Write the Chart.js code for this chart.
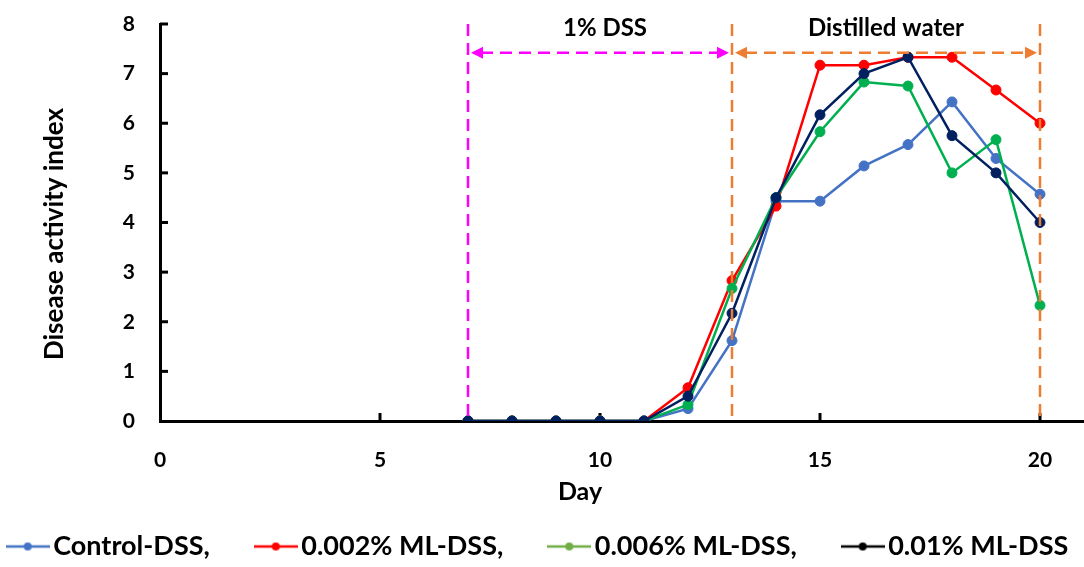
<!DOCTYPE html>
<html>
<head>
<meta charset="utf-8">
<script src="https://cdn.jsdelivr.net/npm/chart.js@4"></script>
<style>
  html, body { margin: 0; padding: 0; background: #fff; overflow: hidden; }
  #wrap { width: 1084px; height: 567px; position: relative; }
  #c { display: block; }
</style>
</head>
<body>
<div id="wrap"><canvas id="c"></canvas></div>
<script>
// Disease activity index by day
const days = [7, 8, 9, 10, 11, 12, 13, 14, 15, 16, 17, 18, 19, 20];
const controlDSS = [0, 0, 0, 0, 0, 0.25, 1.62, 4.43, 4.43, 5.14, 5.57, 6.43, 5.29, 4.57];
const ml002DSS  = [0, 0, 0, 0, 0, 0.67, 2.83, 4.33, 7.17, 7.17, 7.33, 7.33, 6.67, 6.0];
const ml006DSS  = [0, 0, 0, 0, 0, 0.33, 2.67, 4.5, 5.83, 6.83, 6.75, 5.0, 5.67, 2.33];
const ml01DSS   = [0, 0, 0, 0, 0, 0.5, 2.17, 4.5, 6.17, 7.0, 7.33, 5.75, 5.0, 4.0];
const seriesLabels = ['Control-DSS,', '0.002% ML-DSS,', '0.006% ML-DSS,', '0.01% ML-DSS'];

const xTickValues = [0, 5, 10, 15, 20];
const yTickValues = [0, 1, 2, 3, 4, 5, 6, 7, 8];
const xTitle = 'Day';
const yTitle = 'Disease activity index';

// Treatment phases (days) and the level of the span arrows
const phaseLabels = ['1% DSS', 'Distilled water'];
const phaseStart = [7, 13];
const phaseEnd = [13, 20];
const phaseArrowLevel = 7.42;

const FONT = 'Lato';
const lineColors = ['#4472C4', '#FF0000', '#00B050', '#002060'];
const keyColors = ['#4472C4', '#FF0000', '#70AD47', '#000000'];
const phaseColors = ['#FF00FF', '#ED7D31'];

// Legend keys: a short line with a dot in the middle
const KEY_BOX = 24;
function makeKey(color) {
  const cv = document.createElement('canvas');
  cv.width = 44;
  cv.height = 12;
  const g = cv.getContext('2d');
  g.strokeStyle = color;
  g.lineWidth = 2.5;
  g.beginPath();
  g.moveTo(0, 6);
  g.lineTo(44, 6);
  g.stroke();
  g.fillStyle = color;
  g.beginPath();
  g.arc(22, 6, 4, 0, Math.PI * 2);
  g.fill();
  return cv;
}
const keyImages = keyColors.map(makeKey);

function series(values) {
  return days.map((d, i) => ({ x: d, y: values[i] }));
}

// Tick marks pointing into the plot area
const inwardTicks = {
  id: 'inwardTicks',
  beforeDatasetsDraw(chart, args, opts) {
    const { ctx, chartArea, scales: { x, y } } = chart;
    ctx.save();
    ctx.strokeStyle = '#000';
    ctx.lineWidth = 3;
    x.ticks.forEach(t => {
      if (t.value === x.min) return;
      const px = x.getPixelForValue(t.value);
      ctx.beginPath();
      ctx.moveTo(px, chartArea.bottom);
      ctx.lineTo(px, chartArea.bottom - opts.length);
      ctx.stroke();
    });
    y.ticks.forEach(t => {
      if (t.value === y.min) return;
      const py = y.getPixelForValue(t.value);
      ctx.beginPath();
      ctx.moveTo(chartArea.left, py);
      ctx.lineTo(chartArea.left + opts.length, py);
      ctx.stroke();
    });
    ctx.restore();
  }
};

// Axis titles placed relative to the plot area
const axisTitles = {
  id: 'axisTitles',
  afterDraw(chart, args, opts) {
    const { ctx, chartArea } = chart;
    ctx.save();
    ctx.fillStyle = '#000';
    ctx.textAlign = 'center';
    ctx.textBaseline = 'middle';
    ctx.font = 'bold ' + opts.xSize + 'px ' + FONT;
    ctx.fillText(xTitle, chartArea.left + opts.xDx, chartArea.bottom + opts.xDy);
    ctx.font = 'bold ' + opts.ySize + 'px ' + FONT;
    ctx.translate(chartArea.left - opts.yDx, chartArea.top + opts.yDy);
    ctx.rotate(-Math.PI / 2);
    ctx.fillText(yTitle, 0, 0);
    ctx.restore();
  }
};

function arrowHead(ctx, tipX, tipY, dir, len, half) {
  ctx.beginPath();
  ctx.moveTo(tipX, tipY);
  ctx.lineTo(tipX - dir * len, tipY - half);
  ctx.lineTo(tipX - dir * len, tipY + half);
  ctx.closePath();
  ctx.fill();
}

// Phase boundaries, span arrows and phase names
const phaseMarks = {
  id: 'phaseMarks',
  afterDatasetsDraw(chart) {
    const { ctx, scales: { x, y } } = chart;
    const yTop = y.getPixelForValue(y.max);
    const yBot = y.getPixelForValue(y.min);
    const yArrow = y.getPixelForValue(phaseArrowLevel);
    ctx.save();
    ctx.lineWidth = 2.5;
    const bounds = phaseStart.map((d, i) => ({ d, c: phaseColors[i] }));
    bounds.push({ d: phaseEnd[phaseEnd.length - 1], c: phaseColors[phaseColors.length - 1] });
    ctx.setLineDash([12, 7]);
    bounds.forEach(b => {
      const px = x.getPixelForValue(b.d);
      ctx.strokeStyle = b.c;
      ctx.beginPath();
      ctx.moveTo(px, yTop);
      ctx.lineTo(px, yBot);
      ctx.stroke();
    });
    phaseStart.forEach((d, i) => {
      const x1 = x.getPixelForValue(d) + 3;
      const x2 = x.getPixelForValue(phaseEnd[i]) - 3;
      const c = phaseColors[i];
      ctx.strokeStyle = c;
      ctx.fillStyle = c;
      ctx.setLineDash([12, 7]);
      ctx.beginPath();
      ctx.moveTo(x1 + 10, yArrow);
      ctx.lineTo(x2 - 10, yArrow);
      ctx.stroke();
      ctx.setLineDash([]);
      arrowHead(ctx, x1, yArrow, -1, 12, 6);
      arrowHead(ctx, x2, yArrow, 1, 12, 6);
      ctx.fillStyle = '#000';
      ctx.font = 'bold 24px ' + FONT;
      ctx.textAlign = 'center';
      ctx.textBaseline = 'middle';
      ctx.fillText(phaseLabels[i], (x1 + x2) / 2 + (i === 0 ? 5 : 0), yArrow - 25);
    });
    ctx.restore();
  }
};

Chart.defaults.font.family = FONT;
Chart.defaults.font.weight = 'bold';
Chart.defaults.color = '#000';

const datasets = [controlDSS, ml002DSS, ml006DSS, ml01DSS].map((vals, i) => ({
  label: seriesLabels[i],
  data: series(vals),
  borderColor: lineColors[i],
  backgroundColor: lineColors[i],
  pointBackgroundColor: lineColors[i],
  pointBorderColor: lineColors[i],
  borderWidth: 2.5,
  pointRadius: 5,
  pointBorderWidth: 1,
  tension: 0,
  order: 4 - i
}));

new Chart(document.getElementById('c'), {
  type: 'line',
  data: { datasets },
  options: {
    responsive: true,
    maintainAspectRatio: false,
    animation: false,
    layout: { autoPadding: false, padding: { top: 24, right: 0, bottom: -3, left: 0 } },
    scales: {
      x: {
        type: 'linear',
        min: 0,
        max: 21,
        afterBuildTicks: s => { s.ticks = xTickValues.map(v => ({ value: v })); },
        afterFit: s => { s.height = 104; s.paddingLeft = 0; s.paddingRight = 0; },
        grid: { display: false, drawTicks: false },
        border: { display: true, color: '#000', width: 3 },
        ticks: { padding: 27, font: { size: 21, weight: 'bold' }, color: '#000', maxRotation: 0 }
      },
      y: {
        min: 0,
        max: 8,
        afterBuildTicks: s => { s.ticks = yTickValues.map(v => ({ value: v })); },
        afterFit: s => { s.width = 160; s.paddingTop = 0; s.paddingBottom = 0; s.paddingLeft = 0; s.paddingRight = 0; },
        grid: { display: false, drawTicks: false },
        border: { display: true, color: '#000', width: 3 },
        ticks: { padding: 25, font: { size: 21, weight: 'bold' }, color: '#000' }
      }
    },
    plugins: {
      legend: {
        position: 'bottom',
        labels: {
          usePointStyle: true,
          pointStyleWidth: KEY_BOX,
          padding: 8,
          color: '#000',
          font: { size: 27, weight: 'bold' },
          // trailing spaces keep the entries apart along the single row
          generateLabels: chart => chart.data.datasets.map((ds, i, all) => ({
            text: ds.label + (i < all.length - 1 ? '       ' : ''),
            pointStyle: keyImages[i],
            fillStyle: 'rgba(0,0,0,0)',
            strokeStyle: 'rgba(0,0,0,0)',
            lineWidth: 0,
            hidden: false,
            datasetIndex: i,
            fontColor: '#000'
          }))
        }
      },
      tooltip: { enabled: false },
      inwardTicks: { length: 8 },
      axisTitles: { xSize: 25, xDx: 420, xDy: 71, ySize: 26, yDx: 105, yDy: 210 }
    }
  },
  plugins: [inwardTicks, phaseMarks, axisTitles]
});
</script>
</body>
</html>
